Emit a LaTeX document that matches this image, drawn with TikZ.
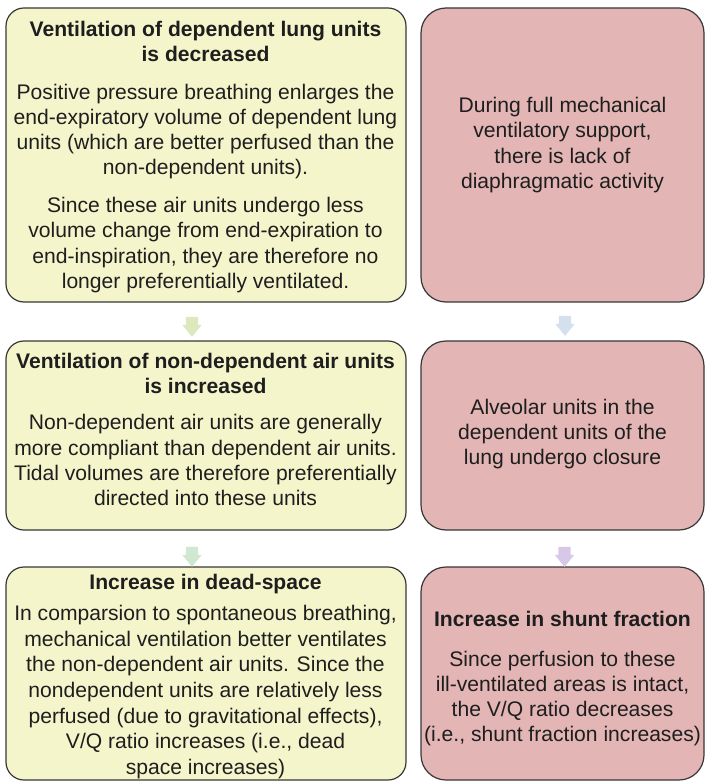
\documentclass[tikz,border=0pt]{standalone}
\usepackage{fontspec}
\setmainfont{Liberation Sans}
\usetikzlibrary{shapes.arrows}
\definecolor{yfill}{RGB}{245,245,204}
\definecolor{pfill}{RGB}{227,181,181}
\definecolor{edge}{RGB}{55,55,55}
\definecolor{txt}{RGB}{30,30,30}
\definecolor{arA}{RGB}{222,232,190}
\definecolor{arB}{RGB}{208,232,210}
\definecolor{arC}{RGB}{212,224,238}
\definecolor{arD}{RGB}{216,200,232}
\tikzset{
  ybox/.style={draw=edge, line width=1.2pt, fill=yfill, rounded corners=18pt, minimum width=400pt, inner sep=0pt},
  pbox/.style={draw=edge, line width=1.2pt, fill=pfill, rounded corners=25pt, minimum width=283pt, inner sep=0pt},
  btxt/.style={align=center, inner sep=0pt, text=txt, font=\fontsize{21.1}{25.2}\selectfont},
  blockarrow/.style={single arrow, shape border rotate=270, minimum height=20pt, minimum width=0pt,
    single arrow head extend=3.5pt, single arrow tip angle=78, inner sep=6pt, draw=none}
}
\begin{document}
\begin{tikzpicture}[x=1pt,y=-1pt]
\useasboundingbox (0,0) rectangle (706,783);
% boxes
\node[ybox, minimum height=294pt] (L1) at (206,155) {};
\node[ybox, minimum height=189pt] (L2) at (206,435.5) {};
\node[ybox, minimum height=213pt] (L3) at (206,673.5) {};
\node[pbox, minimum height=294pt] (R1) at (562.5,155) {};
\node[pbox, minimum height=189pt] (R2) at (562.5,435.5) {};
\node[pbox, minimum height=213pt] (R3) at (562.5,673.5) {};
% arrows
\node[blockarrow, fill=arA] (aL1) at (192,323) {};
\node[blockarrow, fill=arB] (aL2) at (192,553) {};
\node[blockarrow, fill=arC] (aR1) at (565,322) {};
\node[blockarrow, fill=arD] (aR2) at (564.5,553) {};
% texts
\node[btxt, anchor=north] (tL1) at (205.5,21) {\textbf{Ventilation of dependent lung units}\\\textbf{is decreased}\\[12.5pt]
Positive pressure breathing enlarges the\\end-expiratory volume of dependent lung\\units (which are better perfused than the\\non-dependent units).\\[12.5pt]
Since these air units undergo less\\volume change from end-expiration to\\end-inspiration, they are therefore no\\longer preferentially ventilated.};
\node[btxt, anchor=north] (tL2) at (205.5,353) {\textbf{Ventilation of non-dependent air units}\\\textbf{is increased}\\[11pt]
Non-dependent air units are generally\\more compliant than dependent air units.\\Tidal volumes are therefore preferentially\\directed into these units};
\node[btxt, anchor=north, font=\fontsize{21.1}{25.7}\selectfont] (tL3) at (205.5,574) {\textbf{Increase in dead-space}\\[5.3pt]
In comparsion to spontaneous breathing,\\mechanical ventilation better ventilates\\the non-dependent air units. Since the\\nondependent units are relatively less\\perfused (due to gravitational effects),\\V/Q ratio increases (i.e., dead\\space increases)};
\node[btxt] (tR1) at (562.5,145) {During full mechanical\\ventilatory support,\\there is lack of\\diaphragmatic activity};
\node[btxt] (tR2) at (562.5,434) {Alveolar units in the\\dependent units of the\\lung undergo closure};
\node[btxt, anchor=north, font=\fontsize{21.1}{25}\selectfont] (tR3) at (562.5,611) {\textbf{Increase in shunt fraction}\\[14.8pt]
Since perfusion to these\\ill-ventilated areas is intact,\\the V/Q ratio decreases\\(i.e., shunt fraction increases)};
\end{tikzpicture}
\end{document}
